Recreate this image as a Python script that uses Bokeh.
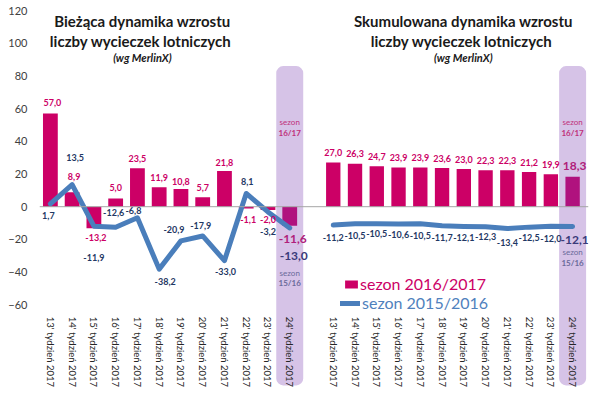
import math
from bokeh.plotting import figure
from bokeh.models import (Range1d, FixedTicker, LinearAxis, Span, Label, Legend,
                          LegendItem, ColumnDataSource)
from bokeh.core.properties import value
from bokeh.embed import file_html
from bokeh.resources import INLINE

# ---------------- data ----------------
weeks = ["13' tydzień 2017", "14' tydzień 2017", "15' tydzień 2017", "16' tydzień 2017",
         "17' tydzień 2017", "18' tydzień 2017", "19' tydzień 2017", "20' tydzień 2017",
         "21' tydzień 2017", "22' tydzień 2017", "23' tydzień 2017", "24' tydzień 2017"]
cur_1617 = [57.0, 8.9, -13.2, 5.0, 23.5, 11.9, 10.8, 5.7, 21.8, -1.1, -2.0, -11.6]
cur_1516 = [1.7, 13.5, -11.9, -12.6, -6.8, -38.2, -20.9, -17.9, -33.0, 8.1, -3.2, -13.0]
cum_1617 = [27.0, 26.3, 24.7, 23.9, 23.9, 23.6, 23.0, 22.3, 22.3, 21.2, 19.9, 18.3]
cum_1516 = [-11.2, -10.5, -10.5, -10.6, -10.5, -11.7, -12.1, -12.3, -13.4, -12.5, -12.0, -12.1]
y_ticks = [-60, -40, -20, 0, 20, 40, 60, 80, 100, 120]
series_names = ["sezon 2016/2017", "sezon 2015/2016"]
title_left = ["Bieżąca dynamika wzrostu", "liczby  wycieczek lotniczych", "(wg MerlinX)"]
title_right = ["Skumulowana dynamika wzrostu", "liczby  wycieczek lotniczych", "(wg MerlinX)"]

# ---------------- style ----------------
FONT = "Lato"
BAR = "#CC0066"
BAR_HI = "#B0127E"
LINE = "#4A7EBB"
NAVY = "#1F3864"
BAND = "#D6C3E7"

n = len(weeks)
x_left = list(range(n))
x_right = [n + 1 + i for i in range(n)]
hi = n - 1  # highlighted week (last)

p = figure(width=592, height=389, output_backend="svg", toolbar_location=None,
           x_range=Range1d(-0.5, 24.73), y_range=Range1d(-111.2, 120),
           x_axis_location=None, min_border_left=39, min_border_right=4,
           min_border_top=10, min_border_bottom=1)
p.outline_line_color = None
p.grid.visible = False
p.background_fill_color = "white"

# y axis
p.yaxis.ticker = FixedTicker(ticks=y_ticks)
p.yaxis.axis_line_color = None
p.yaxis.major_tick_line_color = None
p.yaxis.minor_tick_line_color = None
p.yaxis.major_label_text_font = FONT
p.yaxis.major_label_text_font_size = "11px"
p.yaxis.major_label_text_color = "#404040"
p.yaxis.major_label_standoff = 6

# x axis placed inside frame
xa = LinearAxis(fixed_location=-60)
xa.ticker = FixedTicker(ticks=x_left + x_right)
xa.major_label_overrides = {**{x: w for x, w in zip(x_left, weeks)},
                            **{x: w for x, w in zip(x_right, weeks)}}
xa.major_label_orientation = -math.pi / 2
xa.axis_line_color = None
xa.major_tick_line_color = None
xa.minor_tick_line_color = None
xa.major_label_text_font = FONT
xa.major_label_text_font_size = "9.5px"
xa.major_label_text_color = "#262626"
xa.major_label_standoff = 6
p.add_layout(xa, "below")

# highlight bands
bx = [x_left[hi], x_right[hi]]
p.quad(left=[b - 0.62 for b in bx], right=[b + 0.62 for b in bx],
       top=86, bottom=-109.3, fill_color=BAND, line_color=None, border_radius=7)

p.add_layout(Span(location=0, dimension="width", line_color="#A6A6A6", line_width=1))

# bars
cols = [BAR_HI if i == hi else BAR for i in range(n)]
bars_l = p.vbar(x=x_left, top=cur_1617, width=0.68, fill_color=cols, line_color=None)
bars_r = p.vbar(x=x_right, top=cum_1617, width=0.66, fill_color=cols, line_color=None)

# lines
line_l = p.line(x_left, cur_1516, line_color=LINE, line_width=5, line_join="round", line_cap="round")
line_r = p.line(x_right, cum_1516, line_color=LINE, line_width=5, line_join="round", line_cap="round")

def fmt(v):
    return f"{v:.1f}".replace(".", ",")

# label offsets (px)
bar_l_off = [(2, -11), (2, -16), (2, 9), (0, -11), (0, -10), (0, -10), (0, -8), (0, -10),
             (0, -9), (2, 11), (0, 10), (3, 13)]
line_l_off = [(-2, 12), (3, -27), (0, 31), (-2, -15), (-4, -7), (6, 12), (-7, -11), (-2, -10),
              (1, 11), (1, -12), (0, 20), (4, 28)]
bar_r_off = [(0, -10)] * (n - 1) + [(2, -11)]
line_r_off = [(0, 12), (0, 12), (0, 10), (0, 10), (0, 12), (0, 12), (0, 11), (0, 10),
              (0, 14), (0, 10), (0, 12), (2, 14)]

def add_labels(xs, vals, offs, color, big_color):
    src = ColumnDataSource(dict(
        x=xs, y=vals, t=[fmt(v) for v in vals],
        dx=[o[0] for o in offs], dy=[o[1] for o in offs],
        fs=["12px" if i == hi else "9px" for i in range(len(vals))],
        c=[big_color if i == hi else color for i in range(len(vals))]))
    p.text(x="x", y="y", text="t", x_offset="dx", y_offset="dy", source=src,
           text_align="center", text_baseline="middle", text_font=value(FONT),
           text_font_size="fs", text_font_style="bold", text_color="c")

add_labels(x_left, cur_1617, bar_l_off, BAR, "#B0207A")
add_labels(x_left, cur_1516, line_l_off, NAVY, "#3A3A7A")
add_labels(x_right, cum_1617, bar_r_off, BAR, "#B0207A")
add_labels(x_right, cum_1516, line_r_off, NAVY, "#3A3A7A")

# "sezon" notes in bands
for b, y2 in [(bx[0], -40.3), (bx[1], -28.0)]:
    p.add_layout(Label(x=b, y=y2, text="sezon", text_align="center", text_baseline="middle",
                       text_font=FONT, text_font_size="8px", text_color="#6A6A9A"))
    p.add_layout(Label(x=b, y=y2 - 6.3, text="15/16", text_align="center", text_baseline="middle",
                       text_font=FONT, text_font_size="8px", text_color="#6A6A9A", text_font_style="bold"))
    p.add_layout(Label(x=b, y=51.6, text="sezon", text_align="center", text_baseline="middle",
                       text_font=FONT, text_font_size="8px", text_color="#C0307A"))
    p.add_layout(Label(x=b, y=44.8, text="16/17", text_align="center", text_baseline="middle",
                       text_font=FONT, text_font_size="8px", text_color="#C0307A", text_font_style="bold"))

# titles
for cx, lines in [(4.23, title_left), (18.98, title_right)]:
    for k, (t, yy) in enumerate(zip(lines, [113.8, 101.2, 91.0])):
        p.add_layout(Label(x=cx, y=yy, text=t, text_align="center", text_baseline="middle",
                           text_font=FONT, text_font_size="11px" if k == 2 else "15px",
                           text_font_style="bold italic" if k == 2 else "bold",
                           text_color="#1a1a1a"))

p.add_layout(Label(x=-1.24, y=111.4, text="(w %)", text_align="center", text_baseline="middle",
                   text_font=FONT, text_font_size="9px", text_font_style="italic",
                   text_color="#404040"))

# legends
leg1 = Legend(items=[LegendItem(label=series_names[0], renderers=[bars_r])], location=(304, 95),
              glyph_width=16, glyph_height=10, label_standoff=1, padding=0, margin=0,
              background_fill_alpha=0, border_line_color=None,
              label_text_font=FONT, label_text_font_size="16px", label_text_color=BAR)
leg2 = Legend(items=[LegendItem(label=series_names[1], renderers=[line_r])], location=(301, 76),
              glyph_width=20, glyph_height=10, label_standoff=2, padding=0, margin=0,
              background_fill_alpha=0, border_line_color=None,
              label_text_font=FONT, label_text_font_size="16px", label_text_color="#4F81BD")
p.add_layout(leg1)
p.add_layout(leg2)

open("out.html", "w").write(file_html(p, INLINE))
